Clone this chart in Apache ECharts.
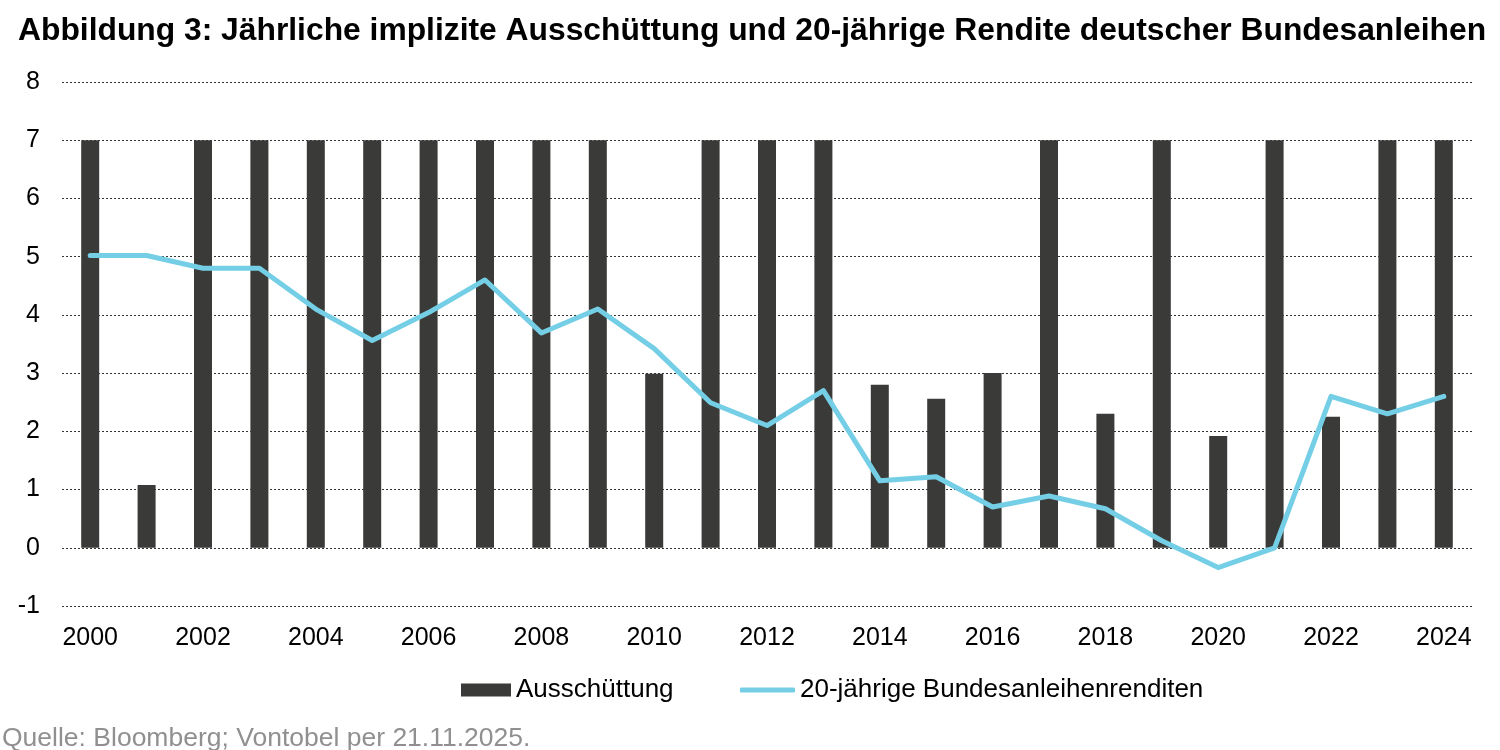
<!DOCTYPE html>
<html>
<head>
<meta charset="utf-8">
<script src="https://cdn.jsdelivr.net/npm/echarts@6/dist/echarts.min.js"></script>
<style>
  html, body { margin: 0; padding: 0; background: #fff; }
  #main { width: 1500px; height: 750px; }
</style>
</head>
<body>
<div id="main"></div>
<script>
var years = ['2000','2001','2002','2003','2004','2005','2006','2007','2008','2009','2010','2011','2012',
             '2013','2014','2015','2016','2017','2018','2019','2020','2021','2022','2023','2024'];
// Ausschuettung (bars)
var payout = [7, 1.08, 7, 7, 7, 7, 7, 7, 7, 7, 2.99, 7, 7,
              7, 2.8, 2.56, 3.0, 7, 2.3, 7, 1.92, 7, 2.25, 7, 7];
// 20-jaehrige Rendite (line)
var yield20 = [5.02, 5.02, 4.8, 4.8, 4.1, 3.56, 4.04, 4.6, 3.69, 4.1, 3.42, 2.49, 2.1,
               2.7, 1.15, 1.22, 0.7, 0.89, 0.67, 0.12, -0.34, 0.0, 2.6, 2.3, 2.6];

var font = 'Liberation Sans, Arial, sans-serif';
var myChart = echarts.init(document.getElementById('main'));
var option = {
  animation: false,
  textStyle: { fontFamily: font },
  title: [
    {
      text: 'Abbildung 3: Jährliche implizite Ausschüttung und 20-jährige Rendite deutscher Bundesanleihen',
      left: 18, top: 15, padding: 0,
      textStyle: { fontFamily: font, fontSize: 31.8, fontWeight: 'bold', color: '#000' }
    },
    {
      text: 'Quelle: Bloomberg; Vontobel per 21.11.2025.',
      left: 2, top: 725, padding: 0,
      textStyle: { fontFamily: font, fontSize: 26.5, fontWeight: 'normal', color: '#909090' }
    }
  ],
  grid: { left: 62, right: 28, top: 82, height: 524 },
  legend: [
    {
      left: 461, top: 677, padding: 0,
      itemWidth: 50, itemHeight: 13,
      textStyle: { fontFamily: font, fontSize: 26, color: '#000' },
      data: [{ name: 'Ausschüttung', icon: 'rect' }]
    },
    {
      left: 740, top: 677, padding: 0,
      itemWidth: 55, itemHeight: 5,
      textStyle: { fontFamily: font, fontSize: 26, color: '#000' },
      data: [{ name: '20-jährige Bundesanleihenrenditen', icon: 'roundRect' }]
    }
  ],
  xAxis: {
    type: 'category',
    data: years,
    boundaryGap: true,
    axisLine: { show: false },
    axisTick: { show: false },
    axisLabel: {
      interval: 1,
      margin: 20,
      fontSize: 25,
      color: '#000',
      fontFamily: font
    }
  },
  yAxis: {
    type: 'value',
    min: -1,
    max: 8,
    interval: 1,
    axisLine: { show: false },
    axisTick: { show: false },
    axisLabel: { margin: 22, fontSize: 25, color: '#000', fontFamily: font },
    splitLine: { lineStyle: { type: [2, 2], color: '#333', width: 1 } }
  },
  series: [
    {
      name: 'Ausschüttung',
      type: 'bar',
      data: payout,
      barWidth: 18,
      itemStyle: { color: '#3a3b38' }
    },
    {
      name: '20-jährige Bundesanleihenrenditen',
      type: 'line',
      data: yield20,
      symbol: 'none',
      lineStyle: { color: '#74cfe6', width: 5, cap: 'round', join: 'round' },
      itemStyle: { color: '#74cfe6' }
    }
  ]
};
myChart.setOption(option);
</script>
</body>
</html>
